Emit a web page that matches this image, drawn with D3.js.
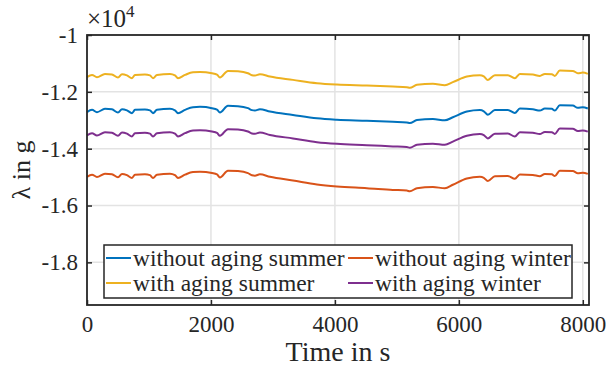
<!DOCTYPE html>
<html>
<head>
<meta charset="utf-8">
<script src="https://cdn.jsdelivr.net/npm/d3@7"></script>
<style>
  body { margin: 0; background: #fff; }
  svg text { font-family: "Liberation Serif", "DejaVu Serif", serif !important; fill: #262626; }
</style>
</head>
<body>
<svg id="chart" width="606" height="367"></svg>
<script>
// time stamps in s
const time = [0, 81, 161, 290, 403, 500, 565, 645, 726, 774,
  935, 1016, 1065, 1129, 1339, 1419, 1468, 1581, 1710, 1823,
  2016, 2097, 2145, 2274, 2435, 2597, 2661, 2710, 2790, 2952,
  3323, 3710, 4032, 4516, 4935, 5161, 5210, 5323, 5581, 5774,
  5903, 6129, 6339, 6403, 6468, 6581, 6790, 6903, 6984, 7194,
  7306, 7387, 7500, 7548, 7629, 7839, 7919, 8000, 8081];

const withoutAgingSummer = [-12714, -12634, -12714, -12598, -12616, -12728, -12609, -12651, -12749, -12634,
  -12623, -12651, -12749, -12634, -12598, -12651, -12749, -12634, -12539, -12528,
  -12574, -12623, -12728, -12493, -12504, -12574, -12644, -12658, -12609, -12693,
  -12812, -12930, -12980, -13017, -13054, -13075, -13100, -12994, -12959, -13003,
  -12895, -12695, -12643, -12684, -12806, -12640, -12638, -12742, -12590, -12614,
  -12659, -12588, -12599, -12659, -12473, -12483, -12564, -12543, -12588];

const withoutAgingWinter = [-14994, -14914, -14994, -14878, -14896, -15008, -14889, -14931, -15029, -14914,
  -14903, -14931, -15029, -14914, -14878, -14931, -15029, -14914, -14819, -14808,
  -14856, -14905, -15010, -14775, -14788, -14860, -14932, -14948, -14902, -14990,
  -15120, -15260, -15330, -15390, -15450, -15475, -15500, -15390, -15350, -15390,
  -15270, -15050, -14990, -15025, -15140, -14966, -14960, -15060, -14905, -14925,
  -14968, -14894, -14903, -14962, -14775, -14784, -14864, -14843, -14888];

const withAgingSummer = [-11484, -11404, -11484, -11368, -11386, -11498, -11379, -11421, -11519, -11404,
  -11393, -11421, -11519, -11404, -11368, -11421, -11519, -11404, -11309, -11298,
  -11344, -11393, -11498, -11263, -11274, -11344, -11414, -11428, -11379, -11463,
  -11579, -11695, -11744, -11779, -11814, -11835, -11860, -11754, -11719, -11765,
  -11660, -11463, -11414, -11456, -11579, -11414, -11414, -11519, -11368, -11393,
  -11439, -11368, -11379, -11439, -11253, -11263, -11344, -11323, -11368];

const withAgingWinter = [-13534, -13454, -13534, -13418, -13436, -13548, -13429, -13471, -13569, -13454,
  -13443, -13471, -13569, -13454, -13418, -13471, -13569, -13454, -13359, -13348,
  -13394, -13443, -13548, -13313, -13324, -13394, -13464, -13478, -13430, -13516,
  -13640, -13770, -13830, -13875, -13920, -13943, -13968, -13860, -13822, -13865,
  -13750, -13543, -13484, -13522, -13640, -13472, -13468, -13570, -13418, -13440,
  -13484, -13412, -13422, -13480, -13292, -13300, -13380, -13358, -13402];

const xTicks = [0, 2000, 4000, 6000, 8000];
const yTicks = [-10000, -12000, -14000, -16000, -18000];

const series = [
  { name: "without aging summer", values: withoutAgingSummer, color: "#0072BD" },
  { name: "without aging winter", values: withoutAgingWinter, color: "#D95319" },
  { name: "with aging summer", values: withAgingSummer, color: "#EDB120" },
  { name: "with aging winter", values: withAgingWinter, color: "#7E2F8E" }
];

const svg = d3.select("svg#chart");
const mLeft = 87, mRight = 589, mTop = 35, mBottom = 305;
const axisColor = "#262626";

const x = d3.scaleLinear().domain([0, 8100]).range([mLeft, mRight]);
const y = d3.scaleLinear().domain([-19500, -10000]).range([mBottom, mTop]);

// grid
const grid = svg.append("g");
grid.selectAll("line.gx").data(xTicks.slice(1))
  .join("line")
  .attr("x1", d => x(d)).attr("x2", d => x(d))
  .attr("y1", mTop).attr("y2", mBottom)
  .attr("stroke", "#e3e3e3").attr("stroke-width", 1.5);
grid.selectAll("line.gy").data(yTicks.slice(1))
  .join("line")
  .attr("x1", mLeft).attr("x2", mRight)
  .attr("y1", d => y(d)).attr("y2", d => y(d))
  .attr("stroke", "#e3e3e3").attr("stroke-width", 1.5);

// lines
const line = d3.line()
  .curve(d3.curveMonotoneX)
  .x((d, i) => x(time[i]))
  .y(d => y(d));

svg.append("g").selectAll("path")
  .data(series)
  .join("path")
  .attr("d", d => line(d.values))
  .attr("fill", "none")
  .attr("stroke", d => d.color)
  .attr("stroke-width", 2)
  .attr("stroke-linejoin", "round");

// axes, ticks inward on all four sides
const fmtY = d => String(d / 10000);
svg.append("g")
  .attr("transform", `translate(0,${mBottom})`)
  .call(d3.axisBottom(x).tickValues(xTicks).tickSize(-5).tickPadding(11).tickFormat(d => String(d)))
  .call(g => g.select(".domain").remove());
svg.append("g")
  .attr("transform", `translate(0,${mTop})`)
  .call(d3.axisTop(x).tickValues(xTicks).tickSize(-5).tickFormat(""))
  .call(g => g.select(".domain").remove());
svg.append("g")
  .attr("transform", `translate(${mLeft},0)`)
  .call(d3.axisLeft(y).tickValues(yTicks).tickSize(-5).tickPadding(9).tickFormat(fmtY))
  .call(g => g.select(".domain").remove());
svg.append("g")
  .attr("transform", `translate(${mRight},0)`)
  .call(d3.axisRight(y).tickValues(yTicks).tickSize(-5).tickFormat(""))
  .call(g => g.select(".domain").remove());

svg.selectAll(".tick line").attr("stroke", axisColor).attr("stroke-width", 1.5);
svg.selectAll(".tick text")
  .attr("font-size", 23)
  .attr("fill", axisColor);

svg.append("rect")
  .attr("x", mLeft).attr("y", mTop)
  .attr("width", mRight - mLeft).attr("height", mBottom - mTop)
  .attr("fill", "none").attr("stroke", axisColor).attr("stroke-width", 1.8);

// exponent
const expo = svg.append("text")
  .attr("x", mLeft).attr("y", 27)
  .attr("font-size", 25);
expo.append("tspan").text("\u00d710");
expo.append("tspan").attr("dy", -10).attr("font-size", 17).text("4");

// axis labels
svg.append("text")
  .attr("x", 338).attr("y", 361)
  .attr("text-anchor", "middle")
  .attr("font-size", 28)
  .text("Time in s");
svg.append("text")
  .attr("transform", "translate(30,170) rotate(-90)")
  .attr("text-anchor", "middle")
  .attr("font-size", 26)
  .text("\u03bb in g");

// legend
const legend = svg.append("g");
legend.append("rect")
  .attr("x", 104).attr("y", 245)
  .attr("width", 468).attr("height", 53)
  .attr("fill", "#fff").attr("stroke", axisColor).attr("stroke-width", 1.5);
const cols = [106, 348], rows = [258, 283];
const items = legend.selectAll("g.item")
  .data(series)
  .join("g")
  .attr("transform", (d, i) => `translate(${cols[i % 2]},${rows[Math.floor(i / 2)]})`);
items.append("line")
  .attr("x1", 0).attr("x2", 25)
  .attr("stroke", d => d.color).attr("stroke-width", 2);
items.append("text")
  .attr("x", 27).attr("dy", "0.33em")
  .attr("font-size", 23.5)
  .text(d => d.name);
</script>
</body>
</html>
